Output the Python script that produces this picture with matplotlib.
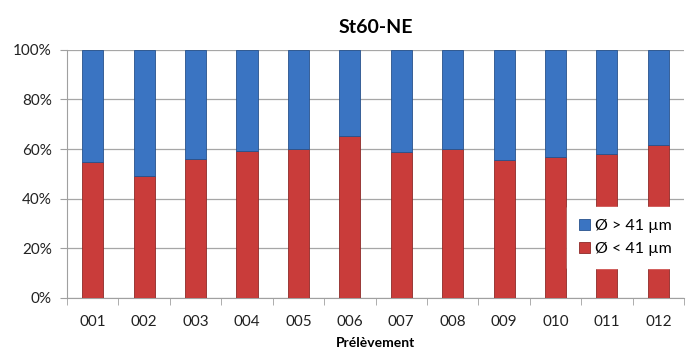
import matplotlib.pyplot as plt
from matplotlib.ticker import PercentFormatter, FixedLocator

plt.rcParams['font.family'] = ['Lato', 'DejaVu Sans']

samples = ['001', '002', '003', '004', '005', '006', '007', '008', '009', '010', '011', '012']
fine = [54.6, 49.2, 56.2, 59.3, 60.0, 65.3, 58.7, 60.0, 55.6, 56.9, 58.1, 61.6]  # Ø < 41 µm
coarse = [100 - v for v in fine]  # Ø > 41 µm

fig = plt.figure(figsize=(6.91, 3.56), dpi=100)
ax = fig.add_axes([0.097, 0.163, 0.893, 0.697])

x = list(range(len(samples)))
red = ax.bar(x, fine, width=0.41, color='#c93c3a', edgecolor='#8e2a28', linewidth=0.6,
             label='Ø < 41 µm', zorder=3)
blue = ax.bar(x, coarse, bottom=fine, width=0.41, color='#3a74c2', edgecolor='#27528c',
              linewidth=0.6, label='Ø > 41 µm', zorder=3)

ax.set_xlim(-0.5, len(samples) - 0.5)
ax.set_ylim(0, 100)
ax.set_yticks(range(0, 101, 20))
ax.yaxis.set_major_formatter(PercentFormatter(decimals=0))
ax.set_xticks(x)
ax.set_xticklabels(samples)
ax.xaxis.set_minor_locator(FixedLocator([i - 0.5 for i in range(len(samples) + 1)]))
ax.tick_params(axis='x', which='major', length=0, pad=12, labelsize=11, colors='#222222')
ax.tick_params(axis='x', which='minor', length=5, color='#a0a0a0')
ax.tick_params(axis='y', length=5, color='#a0a0a0', labelsize=11, labelcolor='#222222', pad=6)

ax.grid(axis='y', color='#a6a6a6', linewidth=0.9, zorder=0)
for side in ['top', 'right']:
    ax.spines[side].set_visible(False)
for side in ['left', 'bottom']:
    ax.spines[side].set_color('#a0a0a0')

ax.set_title('St60-NE', fontsize=14, fontweight='bold', pad=12)
ax.set_xlabel('Prélèvement', fontsize=10, fontweight='bold', labelpad=6)

leg = ax.legend(handles=[blue, red], loc='lower right', bbox_to_anchor=(1.0, 0.12),
                frameon=True, fontsize=11.5, handlelength=0.7, handleheight=0.7,
                handletextpad=0.35, borderaxespad=0.0, labelspacing=0.55, borderpad=0.75)
leg.get_frame().set_edgecolor('white')
leg.get_frame().set_facecolor('white')
leg.get_frame().set_alpha(1.0)
leg.get_frame().set_boxstyle('square', pad=0)

fig.savefig('out.png', dpi=100)
